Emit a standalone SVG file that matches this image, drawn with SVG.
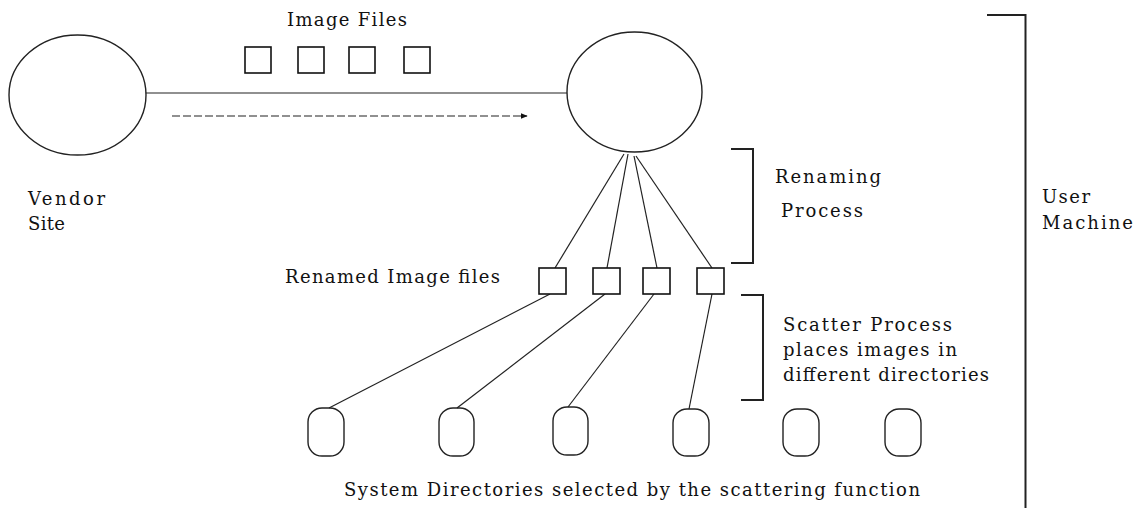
<svg xmlns="http://www.w3.org/2000/svg" width="1138" height="508" viewBox="0 0 1138 508">
<style>
.t{font-family:"DejaVu Serif","Liberation Serif",serif;font-size:18px;fill:#111}
.c{fill:none;stroke:#222;stroke-width:1.4}
.sq{fill:#fff;stroke:#111;stroke-width:1.6}
.ln{fill:none;stroke:#222;stroke-width:1.2}
.br{fill:none;stroke:#222;stroke-width:2}
</style>
<defs>
<marker id="ah" viewBox="0 0 10 10" refX="9" refY="5" markerWidth="7" markerHeight="7" markerUnits="userSpaceOnUse" orient="auto">
<path d="M0,1 L10,5 L0,9 z" fill="#111"/>
</marker>
</defs>
<rect width="1138" height="508" fill="#fff"/>
<g id="connectors">
<line class="ln" x1="146" y1="93" x2="567" y2="93"/>
<line class="ln" x1="172" y1="116" x2="527" y2="116" stroke-dasharray="8 3" marker-end="url(#ah)"/>
<line class="ln" x1="624" y1="154" x2="555" y2="268"/>
<line class="ln" x1="628" y1="154" x2="607" y2="268"/>
<line class="ln" x1="634" y1="156" x2="657" y2="268"/>
<line class="ln" x1="636" y1="156" x2="712" y2="268"/>
<line class="ln" x1="550" y1="294" x2="329" y2="408"/>
<line class="ln" x1="605" y1="294" x2="457" y2="408"/>
<line class="ln" x1="654" y1="294" x2="568" y2="407"/>
<line class="ln" x1="712" y1="294" x2="689" y2="409"/>
</g>
<g id="vendor-site">
<ellipse class="c" cx="77.5" cy="95" rx="68.5" ry="60"/>
<text class="t" x="28" y="205" textLength="77" lengthAdjust="spacing">Vendor</text>
<text class="t" x="28" y="230" textLength="37" lengthAdjust="spacing">Site</text>
</g>
<g id="image-files">
<text class="t" x="287" y="26" textLength="120" lengthAdjust="spacing">Image Files</text>
<rect class="sq" x="245" y="47" width="26" height="26"/>
<rect class="sq" x="298" y="47" width="26" height="26"/>
<rect class="sq" x="349" y="47" width="26" height="26"/>
<rect class="sq" x="404" y="47" width="26" height="26"/>
</g>
<g id="user-node">
<ellipse class="c" cx="634.5" cy="92" rx="67.5" ry="60"/>
</g>
<g id="renamed-files">
<text class="t" x="285" y="283" textLength="215" lengthAdjust="spacing">Renamed Image files</text>
<rect class="sq" x="539" y="268" width="27" height="26"/>
<rect class="sq" x="593" y="268" width="27" height="26"/>
<rect class="sq" x="643" y="268" width="27" height="26"/>
<rect class="sq" x="697" y="268" width="27" height="26"/>
</g>
<g id="renaming-process">
<path class="br" d="M731,149 H753 V263 H731"/>
<text class="t" x="775" y="183" textLength="106" lengthAdjust="spacing">Renaming</text>
<text class="t" x="781" y="217" textLength="82" lengthAdjust="spacing">Process</text>
</g>
<g id="scatter-process">
<path class="br" d="M741,295 H763 V400 H741"/>
<text class="t" x="783" y="331" textLength="169" lengthAdjust="spacing">Scatter Process</text>
<text class="t" x="783" y="356" textLength="174" lengthAdjust="spacing">places images in</text>
<text class="t" x="783" y="381" textLength="206" lengthAdjust="spacing">different directories</text>
</g>
<g id="user-machine">
<path class="br" d="M987,15 H1025.5 V508"/>
<text class="t" x="1042" y="203" textLength="48" lengthAdjust="spacing">User</text>
<text class="t" x="1042" y="229" textLength="91" lengthAdjust="spacing">Machine</text>
</g>
<g id="directories">
<rect class="c" x="308" y="408" width="36" height="48" rx="14" ry="14"/>
<rect class="c" x="439" y="408" width="35" height="48" rx="14" ry="14"/>
<rect class="c" x="553" y="407" width="35" height="48" rx="14" ry="14"/>
<rect class="c" x="673" y="409" width="36" height="47" rx="14" ry="14"/>
<rect class="c" x="783" y="409" width="36" height="47" rx="14" ry="14"/>
<rect class="c" x="885" y="409" width="36" height="47" rx="14" ry="14"/>
<text class="t" x="344" y="496" textLength="576" lengthAdjust="spacing">System Directories selected by the scattering function</text>
</g>
</svg>
